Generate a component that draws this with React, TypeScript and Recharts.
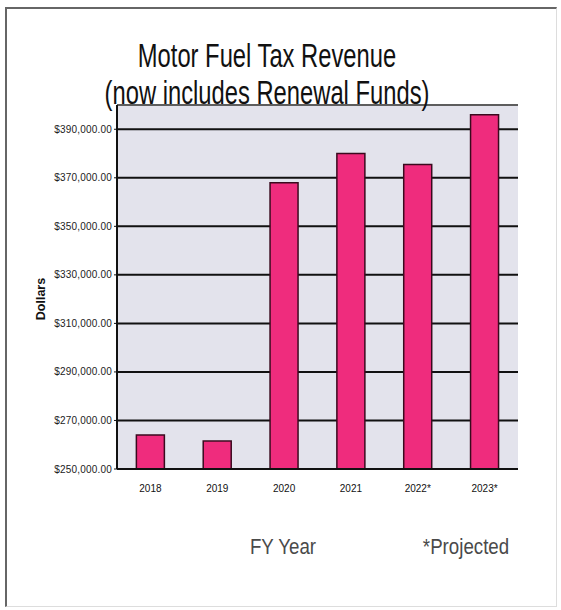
import { BarChart, Bar, XAxis, YAxis, CartesianGrid, ReferenceLine } from 'recharts';

const years = ['2018', '2019', '2020', '2021', '2022*', '2023*'];
const revenue = [264000, 261500, 368000, 380000, 375500, 396000];
const yTicks = [250000, 270000, 290000, 310000, 330000, 350000, 370000, 390000];
const boundaryTicks = [0, 1, 2, 3, 4, 5, 6];

const SANS = "'Liberation Sans', Arial, sans-serif";

const data = years.map((y, i) => ({ year: y, revenue: revenue[i] }));

const fmtDollar = (v: number) => `$${v.toLocaleString('en-US')}.00`;

// narrow look: regular sans squeezed horizontally
const narrow = (scale: number): React.CSSProperties => ({
  transform: `translate(-50%, -50%) scaleX(${scale})`,
  whiteSpace: 'nowrap',
  position: 'absolute',
});

export default function App() {
  return (
    <div style={{ position: 'absolute', left: 0, top: 0, width: 561, height: 610, background: '#fff' }}>
      {/* outer frame */}
      <div
        style={{
          position: 'absolute', left: 5, top: 7, width: 552, height: 600,
          borderLeft: '2px solid #666', borderTop: '2px solid #666',
          borderRight: '1px solid #ddd', borderBottom: '1px solid #ddd',
          boxSizing: 'border-box',
        }}
      />
      <BarChart
        width={561}
        height={610}
        data={data}
        margin={{ top: 105, right: 43, left: 0, bottom: 111 }}
        barCategoryGap="29%"
        style={{ position: 'absolute', left: 0, top: 0 }}
      >
        <CartesianGrid vertical={false} fill="#e3e3ec" stroke="#111" strokeWidth={2} />
        <ReferenceLine y={400000} stroke="#aaa" strokeWidth={1} />
        <XAxis
          xAxisId="ticks" type="number" domain={[0, 6]} ticks={boundaryTicks}
          orientation="bottom" height={0} axisLine={false} tickSize={4}
          tickLine={{ stroke: '#111', strokeWidth: 1.5 }} tickFormatter={() => ''}
        />
        <XAxis
          xAxisId="cat" dataKey="year" height={30} interval={0}
          axisLine={{ stroke: '#111', strokeWidth: 2 }} tickLine={false}
          tick={{ fontSize: 10, fill: '#111', fontFamily: SANS }} tickMargin={10}
        />
        <YAxis
          width={117} domain={[250000, 400000]} ticks={yTicks} interval={0}
          axisLine={{ stroke: '#111', strokeWidth: 2 }} tickSize={3}
          tickLine={{ stroke: '#111' }}
          tick={{ fontSize: 10, fill: '#222', fontFamily: SANS, letterSpacing: 0.2 }}
          tickFormatter={fmtDollar}
        />
        <Bar
          xAxisId="cat" dataKey="revenue" fill="#ef2c7d" stroke="#3a0a1e"
          strokeWidth={1.5} isAnimationActive={false}
        />
      </BarChart>
      <div style={{ ...narrow(0.72), left: 267, top: 74, fontFamily: SANS, fontSize: 33, lineHeight: '37px', color: '#111', textAlign: 'center' }}>
        Motor Fuel Tax Revenue
        <br />
        (now includes Renewal Funds)
      </div>
      <div style={{ position: 'absolute', left: 41, top: 299, transform: 'translate(-50%, -50%) rotate(-90deg)', fontFamily: SANS, fontWeight: 'bold', fontSize: 12.5, color: '#111' }}>
        Dollars
      </div>
      <div style={{ ...narrow(0.85), left: 283, top: 547, fontFamily: SANS, fontSize: 22, color: '#4a4a4a' }}>
        FY Year
      </div>
      <div style={{ ...narrow(0.85), left: 466, top: 547, fontFamily: SANS, fontSize: 22, color: '#4a4a4a' }}>
        *Projected
      </div>
    </div>
  );
}
